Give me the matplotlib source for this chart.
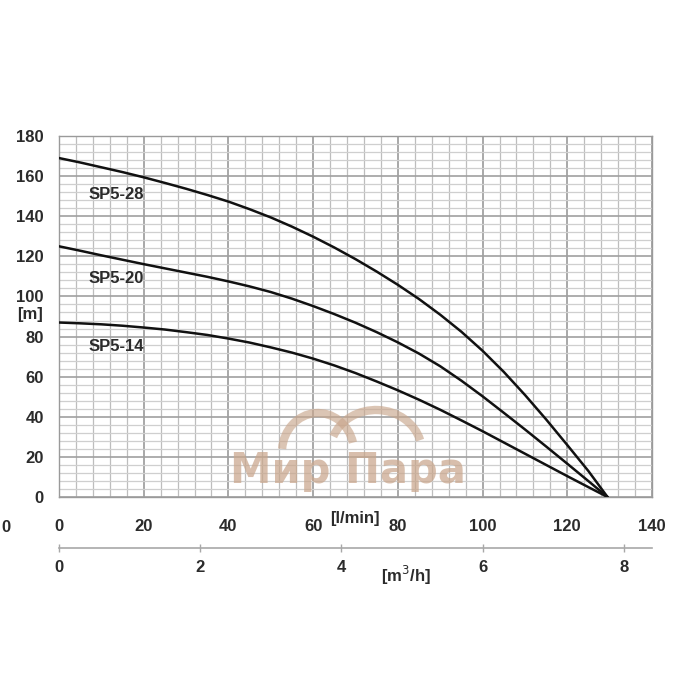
import matplotlib
matplotlib.use("Agg")
import matplotlib.pyplot as plt
from matplotlib.patches import Arc
from matplotlib import font_manager

# ---- data ----
flow_lpm = [0, 5, 10, 15, 20, 25, 30, 35, 40, 45, 50, 55, 60, 65, 70,
            75, 80, 85, 90, 95, 100, 105, 110, 115, 120, 125, 129.5]
head_sp5_28 = [169, 166.8, 164.4, 162, 159.4, 156.6, 153.7, 150.6, 147.3, 143.5, 139.4, 134.8, 129.8,
               124.4, 118.6, 112.4, 105.8, 98.7, 90.9, 82.4, 72.9, 62.4, 50.9, 38.7, 25.9, 12.9, 0]
head_sp5_20 = [125, 122.8, 120.5, 118.3, 116.1, 114, 111.9, 109.8, 107.5, 105, 102.2, 98.9, 95.2,
               91.2, 86.9, 82.2, 77.1, 71.5, 65.2, 58, 50.2, 42, 33.7, 25.2, 16.6, 7.9, 0]
head_sp5_14 = [87, 86.6, 86.1, 85.4, 84.5, 83.5, 82.2, 80.8, 79, 77, 74.6, 72, 69,
               65.6, 61.8, 57.6, 53.2, 48.5, 43.5, 38.2, 32.8, 27.2, 21.6, 16, 10.4, 4.9, 0]
series_names = ["SP5-28", "SP5-20", "SP5-14"]
label_pos = [(7, 151), (7, 109), (7, 75)]
x_ticks = [0, 20, 40, 60, 80, 100, 120, 140]
y_ticks = [0, 20, 40, 60, 80, 100, 120, 140, 160, 180]
m3h_ticks = [0, 2, 4, 6, 8]

avail = {f.name for f in font_manager.fontManager.ttflist}
fam = "Liberation Sans Narrow" if "Liberation Sans Narrow" in avail else "Liberation Sans"
plt.rcParams["font.family"] = [fam, "DejaVu Sans"]

fig = plt.figure(figsize=(7, 7), dpi=100)
ax = fig.add_axes([59/700, 1-497/700, 593/700, 361/700])
ax.set_xlim(0, 140)
ax.set_ylim(0, 180)

# grid
for v in range(0, 141, 4):
    ax.axvline(v, color="#bdbdbd" if v % 20 else "#9a9a9a", lw=0.9 if v % 20 else 1.2, zorder=0)
for h in range(0, 181, 4):
    ax.axhline(h, color="#cfcfcf" if h % 20 else "#a0a0a0", lw=0.9 if h % 20 else 1.2, zorder=0)
for s in ax.spines.values():
    s.set_color("#9a9a9a")
    s.set_linewidth(1.0)

txtc = "#2b2b2b"
ax.set_xticks(x_ticks)
ax.set_yticks(y_ticks)
ax.tick_params(axis="both", length=0, labelsize=12, colors=txtc)
ax.tick_params(axis="x", pad=16)
ax.tick_params(axis="y", pad=11)
for t in ax.get_xticklabels() + ax.get_yticklabels():
    t.set_fontweight("bold")

# curves
for hs in (head_sp5_28, head_sp5_20, head_sp5_14):
    ax.plot(flow_lpm, hs, color="#111111", lw=1.8, zorder=3,
            solid_joinstyle="round", solid_capstyle="round")
for name, (lx, ly) in zip(series_names, label_pos):
    ax.text(lx, ly, name, fontsize=12, fontweight="bold", color=txtc, va="center", ha="left", zorder=4)

# secondary axis (m3/h)
sec = ax.secondary_xaxis(-51/361, functions=(lambda q: q * 0.06, lambda m: m / 0.06))
sec.set_xticks(m3h_ticks)
sec.spines["bottom"].set_color("#a8a8a8")
sec.spines["bottom"].set_linewidth(1.2)
sec.tick_params(axis="x", direction="inout", length=6, width=1, colors="#a8a8a8",
                labelcolor=txtc, labelsize=12, pad=6)
for t in sec.get_xticklabels():
    t.set_fontweight("bold")

# axis unit labels
fig.text(355/700, 1-518/700, "[l/min]", fontsize=12, fontweight="bold", color=txtc, ha="center", va="center")
fig.text(406/700, 1-575/700, "[m$^3$/h]", fontsize=12, fontweight="bold", color=txtc, ha="center", va="center")
fig.text(30/700, 1-314/700, "[m]", fontsize=12, fontweight="bold", color=txtc, ha="center", va="center")
fig.text(1/700, 1-527/700, "0", fontsize=12, fontweight="bold", color=txtc, ha="left", va="center")

# watermark
wm = "#c9a68c"
fig.text(348/700, 1-471/700, "Мир Пара", fontsize=30, fontweight="bold", color=wm, alpha=0.72,
         ha="center", va="center", family=["DejaVu Sans"], zorder=5)
a1 = Arc((318/700, 1-452/700), 72/700, 78/700, theta1=15, theta2=175, color=wm, lw=6, alpha=0.65,
         transform=fig.transFigure)
a2 = Arc((376/700, 1-452/700), 92/700, 84/700, theta1=15, theta2=160, color=wm, lw=6, alpha=0.65,
         transform=fig.transFigure)
fig.add_artist(a1)
fig.add_artist(a2)

fig.savefig("out.png", dpi=100)
